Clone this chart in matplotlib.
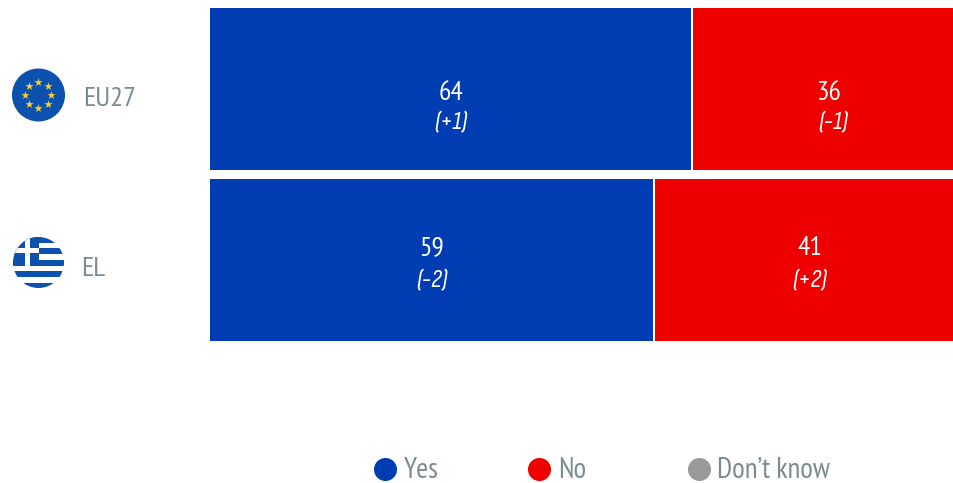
import numpy as np
import matplotlib
matplotlib.use('Agg')
import matplotlib.pyplot as plt
from matplotlib.patches import Circle, Rectangle

UPRIGHT = ['PT Sans Narrow', 'Roboto', 'DejaVu Sans']
SLANTED = ['Sofia Sans Condensed', 'Roboto', 'DejaVu Sans']

countries = ['EU27', 'EL']
yes_share = [64.6, 59.5]
yes_labels = ['64', '59']
no_labels = ['36', '41']
yes_change = ['(+1)', '(-2)']
no_change = ['(-1)', '(+2)']
legend_names = ['Yes', 'No', "Don\u2019t know"]

BLUE = '#003DB2'
RED = '#EE0000'
GREY = '#999999'
TEXT = '#7C8A94'
FLAG_BLUE = '#0D51AE'
STAR = '#F7D22E'

W, H = 954, 483
fig = plt.figure(figsize=(W / 100, H / 100), dpi=100)

# main bars, y is row number, one row = 171 px
ax = fig.add_axes([210 / W, 0, 745 / W, 1])
ax.set_xlim(0, 100)
ax.set_ylim((H - 89) / 171, -89 / 171)
ax.axis('off')
gap = 0.27
y = np.arange(len(countries))
yes = np.array(yes_share)
ax.barh(y, yes, height=162 / 171, color=BLUE, linewidth=0)
ax.barh(y, 100 - yes - gap, left=yes + gap, height=162 / 171, color=RED, linewidth=0)

# the labels do not sit at the same height in both rows
num_dy = [4, -12]
chg_dy = [34, 20.6]
chg_dx = [0.5, 0]
for i in range(len(countries)):
    mid = yes[i] + (100 - yes[i]) / 2 + 0.8
    ax.text(yes[i] / 2, i + num_dy[i] / 171, yes_labels[i], color='white', fontsize=20, family=UPRIGHT, ha='center', va='center')
    ax.text(yes[i] / 2, i + chg_dy[i] / 171, yes_change[i], color='white', fontsize=19, family=SLANTED, style='italic', ha='center', va='center')
    ax.text(mid, i + num_dy[i] / 171, no_labels[i], color='white', fontsize=20, family=UPRIGHT, ha='center', va='center')
    ax.text(mid + chg_dx[i], i + chg_dy[i] / 171, no_change[i], color='white', fontsize=19, family=SLANTED, style='italic', ha='center', va='center')

# overlay in pixels for flags, names and legend
ov = fig.add_axes([0, 0, 1, 1], facecolor='none')
ov.set_xlim(0, W)
ov.set_ylim(H, 0)
ov.axis('off')

# EU flag
ov.add_patch(Circle((38.5, 95), 26.5, color=FLAG_BLUE, lw=0))
ang = np.arange(8) * np.pi / 4
ov.scatter(38.5 + 13 * np.cos(ang), 95 + 13 * np.sin(ang), marker='*', s=38, color=STAR, linewidths=0)

# Greek flag, stripes clipped by a circle
clip = Circle((38.5, 262.5), 25.5, transform=ov.transData)
for k in range(9):
    c = FLAG_BLUE if k % 2 == 0 else 'white'
    r = Rectangle((10, 237 + k * 5.7), 60, 5.7, color=c, lw=0)
    ov.add_patch(r)
    r.set_clip_path(clip)
canton = Rectangle((10, 237), 29.5, 28.5, color=FLAG_BLUE, lw=0)
ov.add_patch(canton)
canton.set_clip_path(clip)
for r in [Rectangle((25, 237), 5, 28.5, color='white', lw=0), Rectangle((10, 248), 29.5, 5, color='white', lw=0)]:
    ov.add_patch(r)
    r.set_clip_path(clip)

ov.text(83, 99.5, countries[0], color=TEXT, fontsize=20.5, family=UPRIGHT, ha='left', va='center')
ov.text(81.5, 269.5, countries[1], color=TEXT, fontsize=20.5, family=UPRIGHT, ha='left', va='center')

# legend
dots_x = [385.5, 539.5, 699]
text_x = [404, 558, 717]
dot_colors = [BLUE, RED, GREY]
for dx, tx, c, name in zip(dots_x, text_x, dot_colors, legend_names):
    ov.scatter([dx], [468.5], s=275, color=c, linewidths=0)
    ov.text(tx, 471, name, color=TEXT, fontsize=20.8, family=UPRIGHT, ha='left', va='center')

fig.savefig('out.png', dpi=100)
